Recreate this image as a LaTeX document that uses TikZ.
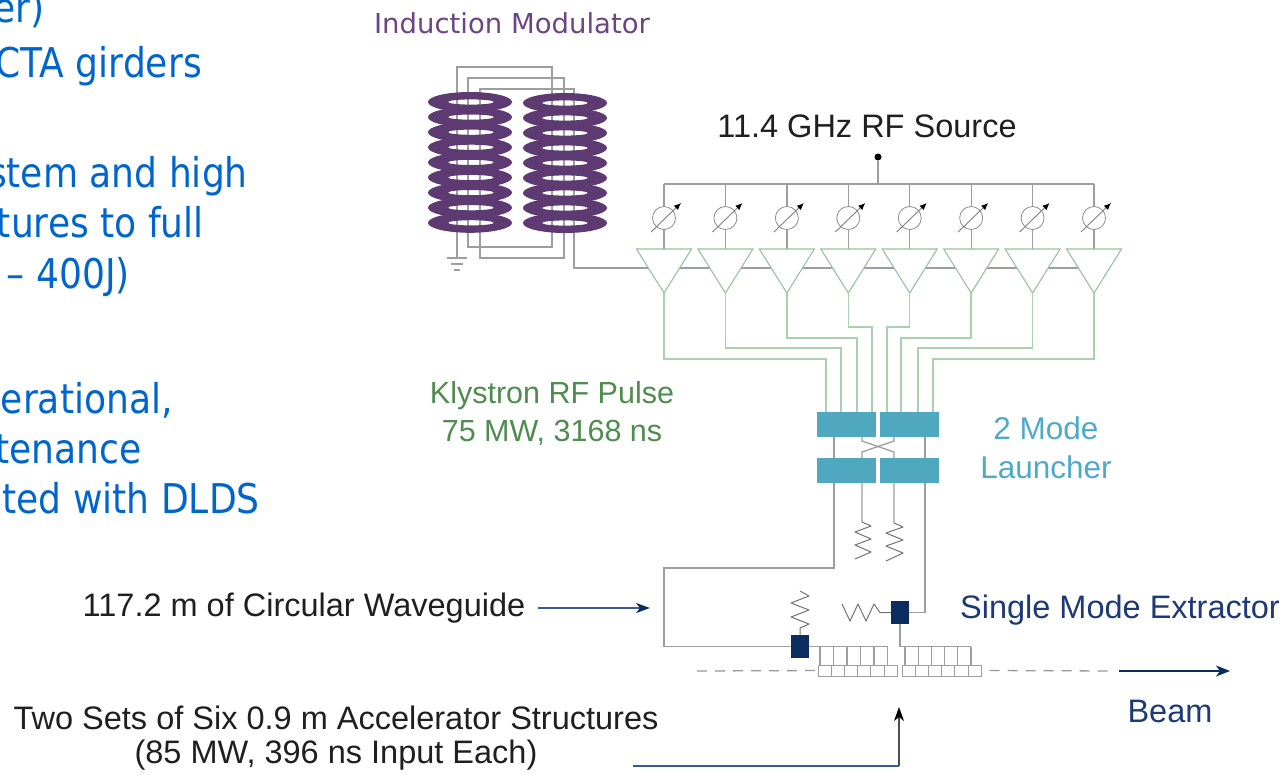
\documentclass[tikz,border=0pt]{standalone}
\usepackage{fontspec}
\setmainfont{Liberation Sans}
\newfontfamily\titlefont{DejaVu Sans}
\newfontfamily\notefont[FakeStretch=0.88]{DejaVu Sans}
\usetikzlibrary{arrows.meta}

\definecolor{notes}{RGB}{0,102,204}
\definecolor{coilc}{RGB}{94,58,114}
\definecolor{modtxt}{RGB}{110,68,130}
\definecolor{wirec}{RGB}{158,158,158}
\definecolor{rfline}{RGB}{170,208,172}
\definecolor{ampc}{RGB}{150,196,152}
\definecolor{klytxt}{RGB}{80,140,80}
\definecolor{launchc}{RGB}{80,167,192}
\definecolor{launchtxt}{RGB}{78,170,202}
\definecolor{navy}{RGB}{12,44,96}
\definecolor{beamtxt}{RGB}{30,58,118}
\definecolor{arrowblue}{RGB}{60,90,150}

\begin{document}
\begin{tikzpicture}[x=1pt,y=-1pt,
  note/.style={font=\notefont\fontsize{41}{49}\selectfont, text=notes, inner sep=0pt, anchor=base east},
  lbl/.style={font=\fontsize{32.5}{38}\selectfont, text=black!88, inner sep=0pt},
  wire/.style={draw=wirec, line width=1.3pt},
  rfw/.style={draw=rfline, line width=1.4pt},
  amptri/.style={draw=ampc, fill=white, line width=1.1pt, line join=miter},
  shifter/.style={circle, draw=black!45, line width=0.8pt, minimum size=23pt, inner sep=0pt},
  lblock/.style={rectangle, fill=launchc, minimum width=59pt, minimum height=25pt, inner sep=0pt},
  extr/.style={rectangle, fill=navy, minimum width=18pt, minimum height=23pt, inner sep=0pt},
  accel/.style={rectangle, draw=wirec, fill=white, line width=1pt, minimum width=13.2pt, minimum height=11pt, inner sep=0pt},
  res/.style={draw=black!55, line width=1pt, line join=round},
  pointer/.style={draw=arrowblue, line width=1.2pt, -{Stealth[length=14pt,width=10pt,inset=4pt,navy]}},
]
\useasboundingbox (0,0) rectangle (1285,774);
\fill[white] (0,0) rectangle (1285,774);

% notes on the left edge
\node[note] (n1) at (45,22) {er)};
\node[note] (n2) at (202,77) {CTA girders};
\node[note] (n3) at (248,187) {stem and high};
\node[note] (n4) at (204,237) {tures to full};
\node[note] (n5) at (130,288) {– 400J)};
\node[note] (n6) at (173,413) {perational,};
\node[note] (n7) at (142,463) {tenance};
\node[note] (n8) at (260,513) {ted with DLDS};

% induction modulator
\node[font=\titlefont\fontsize{27.5}{33}\selectfont, text=modtxt, inner sep=0pt] (modlabel) at (512,23) {Induction Modulator};
\draw[wire] (457,258) -- (457,67) -- (552,67) -- (552,247) -- (468,247) -- (468,78) -- (564,78)
  -- (564,258) -- (480,258) -- (480,89) -- (574,89) -- (574,268) -- (1094,268);
\draw[wire] (447,258) -- (467,258) (451,264) -- (463,264) (454,270) -- (460,270);
\foreach \k in {0,...,8} {
  \fill[coilc, even odd rule] (470,{102+15.1*\k}) ellipse [x radius=42, y radius=10]
                              (471,{102+15.1*\k}) ellipse [x radius=23, y radius=2.6];
  \fill[coilc, even odd rule] (565,{103+15*\k}) ellipse [x radius=42, y radius=10]
                              (565,{103+15*\k}) ellipse [x radius=23, y radius=2.6];
}

% RF source, phase shifters and klystrons
\node[lbl] (srclabel) at (867,126) {11.4 GHz RF Source};
\node[circle, fill=black, inner sep=0pt, minimum size=7pt] (srcdot) at (878,157) {};
\coordinate (srctap) at (878,184);
\foreach \i in {0,...,7} {
  \pgfmathsetmacro\xx{664+61.43*\i}
  \coordinate (tap\i) at (\xx,184);
  \node[shifter] (ps\i) at (\xx,218) {};
  \coordinate (ampin\i) at (\xx,249);
  \coordinate (ampout\i) at (\xx,293);
  \draw[wire] (tap\i) -- (ps\i.north);
  \draw[wire] (ps\i.south) -- (ampin\i);
  \draw[amptri] ({\xx-27.5},249) -- ({\xx+27.5},249) -- (ampout\i) -- cycle;
  \draw[draw=black!50, line width=0.9pt, -{Latex[length=7pt,width=6pt,black]}]
    ([shift={(-13,14)}]ps\i.center) -- ([shift={(17,-15)}]ps\i.center);
}
\draw[wire] (tap0) -- (tap7);
\draw[wire] (srctap) -- (srcdot);

% klystron outputs to the launcher
\foreach \i/\yt/\xin in {0/359/826, 1/348/841, 2/338/857, 3/327/872, 4/327/887, 5/338/901, 6/348/918, 7/359/933} {
  \coordinate (kink\i) at (\xin,\yt);
  \coordinate (feed\i) at (\xin,412);
  \draw[rfw] (ampout\i) |- (kink\i) -- (feed\i);
}
\node[lbl, font=\fontsize{30.5}{36}\selectfont, text=klytxt] (klylabel1) at (552,396) {Klystron RF Pulse};
\node[lbl, font=\fontsize{30.5}{36}\selectfont, text=klytxt] (klylabel2) at (552,433) {75 MW, 3168 ns};

% extractors
\node[extr] (sqA) at (800,646.5) {};
\node[extr] (sqB) at (900,612.5) {};

% waveguides from the launcher
\draw[wire] (834,430) |- (664,568) |- (sqA.west);
\draw[wire] (925,430) |- (sqB.east);
\draw[wire] (862,430) -- (862,441) -- (894,452) -- (894,523);
\draw[wire] (894,430) -- (894,441) -- (862,452) -- (862,522);
\draw[res] (862,522) -- (871,526) -- (855,532) -- (871,539) -- (855,545) -- (871,552) -- (855,559);
\draw[res] (894,523) -- (903,527) -- (886,533) -- (903,540) -- (886,546) -- (903,553) -- (886,561);

% two mode launcher
\node[lblock] (lTL) at (846.5,424.5) {};
\node[lblock] (lTR) at (909,424.5) {};
\node[lblock] (lBL) at (846.5,470) {};
\node[lblock] (lBR) at (909,470) {};
\node[lbl, font=\fontsize{31.5}{37}\selectfont, text=launchtxt] (launchlabel1) at (1046,428) {2 Mode};
\node[lbl, font=\fontsize{31.5}{37}\selectfont, text=launchtxt] (launchlabel2) at (1046,467) {Launcher};

% loads at the extractors
\draw[res] (sqA.north) -- (800,628) -- (809,624) -- (791,617) -- (809,610) -- (791,603) -- (809,596) -- (800,591);
\draw[res] (sqB.west) -- (880,612.5) -- (874,604) -- (866,621) -- (858,604) -- (850,621) -- (842,604);

% accelerator structures
\draw[wire] (sqA.east) -- (888,646.5);
\draw[wire] (sqB.south) |- (971,646.5);
\foreach \k in {0,...,5} {
  \draw[wire] ({820+13.5*\k},646.5) -- ({820+13.5*\k},666);
  \draw[wire] ({905+13.2*\k},646.5) -- ({905+13.2*\k},666);
  \node[accel] (accL\k) at ({824.6+13.2*\k},670.5) {};
  \node[accel] (accR\k) at ({908.6+13.2*\k},670.5) {};
}
\coordinate (beamin) at (697,671);
\coordinate (beamout) at (1113,671);
\coordinate (beamtip) at (1230,671);
\draw[draw=black!40, line width=1.3pt, dash pattern=on 10pt off 8pt] (beamin) -- (accL0.west);
\draw[draw=black!40, line width=1.3pt, dash pattern=on 10pt off 8pt] ([xshift=8pt]accR5.east) -- (beamout);
\draw[draw=navy, line width=1.5pt, -{Stealth[length=14pt,width=11pt,inset=4pt]}] ([xshift=6pt]beamout) -- (beamtip);
\node[lbl, text=beamtxt] (extrlabel) at (1120,610) {Single Mode Extractor};
\node[lbl, text=beamtxt] (beamlabel) at (1170,711) {Beam};

% callouts
\node[lbl] (wglabel) at (304,608) {117.2 m of Circular Waveguide};
\coordinate (wgtail) at (538,608);
\coordinate (wgtip) at (650,608);
\draw[pointer] (wgtail) -- (wgtip);
\node[lbl] (acclabel1) at (336,718) {Two Sets of Six 0.9 m Accelerator Structures};
\node[lbl] (acclabel2) at (336,755) {(85 MW, 396 ns Input Each)};
\coordinate (acctail) at (633,766);
\coordinate (acccorner) at (899,766);
\coordinate (acctip) at (899,707);
\draw[draw=arrowblue, line width=1.2pt] (acctail) -- (acccorner);
\draw[draw=black!70, line width=1.3pt, -{Stealth[length=14pt,width=10pt,inset=4pt,black]}] (acccorner) -- (acctip);
\end{tikzpicture}
\end{document}
